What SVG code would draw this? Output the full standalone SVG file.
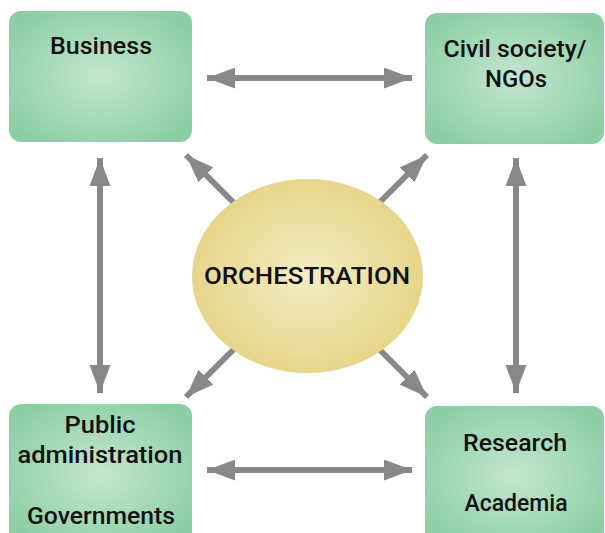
<svg xmlns="http://www.w3.org/2000/svg" width="605" height="533" viewBox="0 0 605 533">
<defs>
<radialGradient id="g" cx="50%" cy="50%" r="60%">
<stop offset="0" stop-color="#c3e6cf"/>
<stop offset="1" stop-color="#8ccfa4"/>
</radialGradient>
<radialGradient id="y" cx="50%" cy="50%" r="55%">
<stop offset="0" stop-color="#f4edc4"/>
<stop offset="1" stop-color="#e5d383"/>
</radialGradient>
<marker id="ah" viewBox="0 0 10 10" refX="10" refY="5" markerWidth="4.7" markerHeight="3.5" orient="auto-start-reverse" markerUnits="strokeWidth" preserveAspectRatio="none">
<path d="M0,0 L10,5 L0,10 Z" fill="#888"/>
</marker>
</defs>
<style>
.box{fill:url(#g)}
.t{font-family:Roboto,"DejaVu Sans",sans-serif;font-weight:500;font-size:23px;fill:#111;text-anchor:middle}
.c{stroke:#888;stroke-width:6;fill:none}
</style>
<g id="connectors">
<line class="c" x1="207" y1="78" x2="412" y2="78" marker-start="url(#ah)" marker-end="url(#ah)"/>
<line class="c" x1="207" y1="470" x2="412" y2="470" marker-start="url(#ah)" marker-end="url(#ah)"/>
<line class="c" x1="100" y1="158" x2="100" y2="393" marker-start="url(#ah)" marker-end="url(#ah)"/>
<line class="c" x1="516" y1="158" x2="516" y2="393" marker-start="url(#ah)" marker-end="url(#ah)"/>
<line class="c" x1="236" y1="205" x2="186" y2="155" marker-end="url(#ah)"/>
<line class="c" x1="377" y1="205" x2="427" y2="155" marker-end="url(#ah)"/>
<line class="c" x1="236" y1="347" x2="186" y2="397" marker-end="url(#ah)"/>
<line class="c" x1="377" y1="347" x2="427" y2="397" marker-end="url(#ah)"/>
</g>
<g id="business">
<rect class="box" x="9" y="11" width="183" height="131" rx="12"/>
<text class="t" x="101" y="54" textLength="102" lengthAdjust="spacingAndGlyphs">Business</text>
</g>
<g id="civil">
<rect class="box" x="425" y="13" width="179" height="131" rx="12"/>
<text class="t" x="515" y="57" textLength="143" lengthAdjust="spacingAndGlyphs">Civil society/</text>
<text class="t" x="516" y="87" textLength="62" lengthAdjust="spacingAndGlyphs">NGOs</text>
</g>
<g id="public">
<rect class="box" x="9" y="404" width="183" height="140" rx="12"/>
<text class="t" x="100" y="433" textLength="71" lengthAdjust="spacingAndGlyphs">Public</text>
<text class="t" x="100" y="463" textLength="165" lengthAdjust="spacingAndGlyphs">administration</text>
<text class="t" x="101" y="524" textLength="148" lengthAdjust="spacingAndGlyphs">Governments</text>
</g>
<g id="research">
<rect class="box" x="425" y="406" width="179" height="140" rx="12"/>
<text class="t" x="515" y="451" textLength="104" lengthAdjust="spacingAndGlyphs">Research</text>
<text class="t" x="516" y="511" textLength="103" lengthAdjust="spacingAndGlyphs">Academia</text>
</g>
<g id="orchestration">
<ellipse cx="307.5" cy="276" rx="115.5" ry="97" fill="url(#y)"/>
<text class="t" x="307" y="284" textLength="206" lengthAdjust="spacingAndGlyphs">ORCHESTRATION</text>
</g>
</svg>
